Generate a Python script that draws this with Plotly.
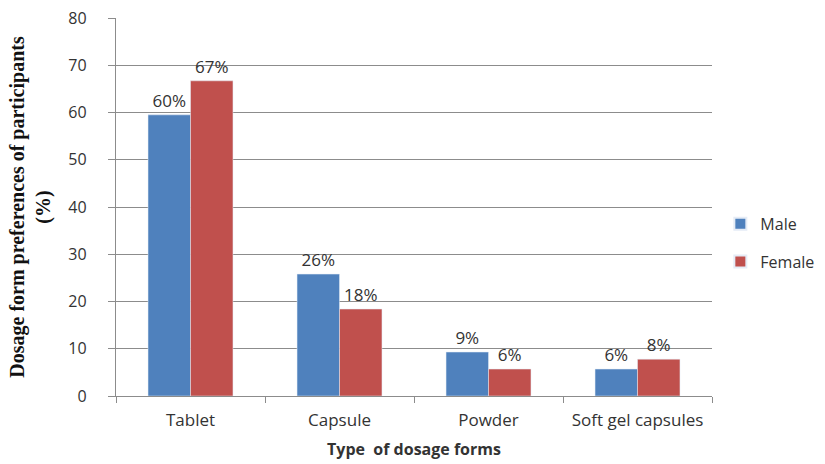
import plotly.graph_objects as go

# Dosage form preference by gender (%)
categories = ["Tablet", "Capsule", "Powder", "Soft gel capsules"]
male = [59.5, 25.8, 9.3, 5.7]
female = [66.7, 18.4, 5.7, 7.8]
y_ticks = [0, 10, 20, 30, 40, 50, 60, 70, 80]

BLUE = "#4F81BD"
RED = "#C0504D"
TEXT = "#333333"
GRID = "#8C8C8C"
SANS = "Open Sans, Liberation Sans, sans-serif"


def pct(values):
    return [f"{round(v):.0f}%" for v in values]


fig = go.Figure()
fig.add_trace(go.Bar(
    name="Male", x=categories, y=male, marker_color=BLUE,
    legendgroup="male",
    text=pct(male), textposition="outside", cliponaxis=False,
    textfont=dict(family=SANS, size=17, color=TEXT),
))
fig.add_trace(go.Bar(
    name="Female", x=categories, y=female, marker_color=RED,
    legendgroup="female",
    text=pct(female), textposition="outside", cliponaxis=False,
    textfont=dict(family=SANS, size=17, color=TEXT),
))

fig.update_layout(
    width=825, height=464,
    margin=dict(l=116, r=113, t=18, b=68, autoexpand=False),
    paper_bgcolor="white", plot_bgcolor="white",
    barmode="group", bargap=0.43, bargroupgap=0,
    font=dict(family=SANS, size=15, color=TEXT),
    legend=dict(
        x=1.014, y=0.405, xanchor="left", yanchor="middle",
        font=dict(family=SANS, size=16, color=TEXT),
        traceorder="grouped", tracegroupgap=14,
        itemsizing="constant", itemwidth=30,
    ),
    showlegend=True,
)

fig.update_xaxes(
    showline=True, linecolor=GRID, linewidth=1.3,
    ticks="outside", tickson="boundaries", ticklen=6, tickcolor=GRID,
    ticklabelstandoff=8,
    tickfont=dict(family=SANS, size=17, color=TEXT),
    title=dict(text="<b>Type  of dosage forms</b>",
               font=dict(family=SANS, size=16, color=TEXT), standoff=14),
)
fig.update_yaxes(
    range=[0, 80], tickvals=y_ticks,
    showline=True, linecolor=GRID, linewidth=1.3,
    showgrid=True, gridcolor=GRID, gridwidth=1.3,
    ticks="outside", ticklen=7, tickcolor=GRID, ticklabelstandoff=18,
    tickfont=dict(family=SANS, size=16, color=TEXT),
    zeroline=False,
    title=dict(text="<b>Dosage form preferences of participants<br>(%)</b>",
               font=dict(family="Liberation Serif, Times New Roman, serif",
                         size=20, color="#111111"),
               standoff=12),
)

fig.write_html("out.html")
